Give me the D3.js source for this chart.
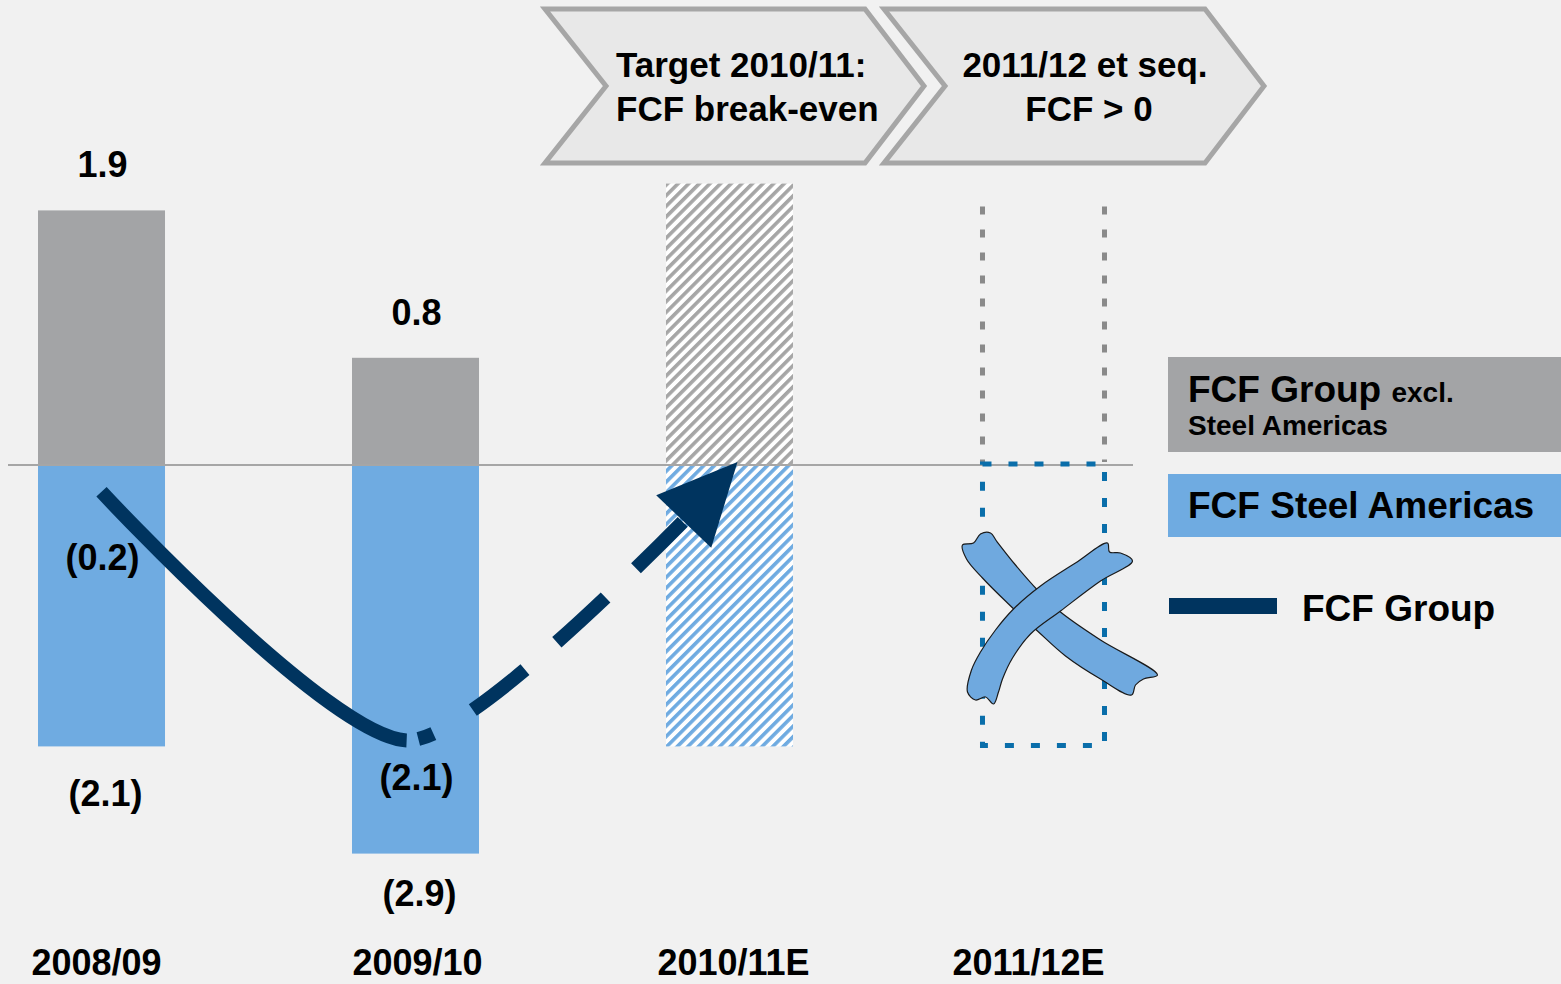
<!DOCTYPE html>
<html>
<meta charset="utf-8">
<style>
body { margin: 0; background: #f1f1f1; }
svg { display: block; }
text { font-family: "Liberation Sans", Arial, sans-serif; font-weight: bold; fill: #000; }
</style>
<body>
<script src="https://d3js.org/d3.v7.min.js"></script>
<script>
// data
var categories = ["2008/09", "2009/10", "2010/11E", "2011/12E"];
var fcfExclSA = [1.9, 0.8];            // grey bars (FCF Group excl. Steel Americas)
var fcfSteelAmericas = [-2.1, -2.9];   // blue bars (FCF Steel Americas)
var fcfGroup = [-0.2, -2.1, 0];        // FCF Group line (last = target break-even)
var targetRange = [-2.1, 2.1];         // hatched target bar 2010/11E
var outlookRange = [-2.1, 1.9];        // dotted outlook bar 2011/12E
var headers = [["Target 2010/11:", "FCF break-even"], ["2011/12 et seq.", "FCF > 0"]];

var W = 1561, H = 984;
var grey = "#a3a4a6", blue = "#6fabe1", navy = "#00345f";

var svg = d3.select("body").append("svg")
    .attr("width", W)
    .attr("height", H);

var x = d3.scaleBand().domain(categories).range([38, 1107]).paddingInner(0.5955).paddingOuter(0);
var y = d3.scaleLinear().domain([-3, 2.5]).range([465 + 3 * 134, 465 - 2.5 * 134]);
var bw = x.bandwidth();
function cx(i) { return x(categories[i]) + bw / 2; }
function fmt(v) { return v < 0 ? "(" + d3.format(".1f")(-v) + ")" : d3.format(".1f")(v); }

// hatch patterns
var defs = svg.append("defs");
[["hatchGrey", "#a6a6a6"], ["hatchBlue", "#6fabe1"]].forEach(function(p) {
  var pat = defs.append("pattern")
      .attr("id", p[0])
      .attr("patternUnits", "userSpaceOnUse")
      .attr("width", 7.5).attr("height", 7.5)
      .attr("patternTransform", "rotate(45)");
  pat.append("rect").attr("width", 7.5).attr("height", 7.5).attr("fill", "#fff");
  pat.append("rect").attr("width", 3.6).attr("height", 7.5).attr("fill", p[1]);
});

// header chevrons
function chevron(x0, x1) {
  var t = 59, y0 = 9, y1 = 163, ym = (y0 + y1) / 2;
  return [[x0, y0], [x1, y0], [x1 + t, ym], [x1, y1], [x0, y1], [x0 + 61, ym]];
}
var chev = [chevron(545, 865), chevron(884, 1205)];
svg.selectAll(".chev")
  .data(chev)
  .enter().append("path")
    .attr("class", "chev")
    .attr("d", function(d) { return d3.line()(d) + "Z"; })
    .attr("fill", "#e8e8e8")
    .attr("stroke", "#a6a6a6")
    .attr("stroke-width", 5)
    .attr("stroke-linejoin", "miter");

var h1 = svg.append("text").attr("x", 616).attr("y", 77).style("font-size", "35px");
h1.append("tspan").attr("x", 616).text(headers[0][0]);
h1.append("tspan").attr("x", 616).attr("dy", 44).text(headers[0][1]);
var h2 = svg.append("text").attr("x", 1085).attr("y", 77).style("font-size", "35px").style("text-anchor", "middle");
h2.append("tspan").attr("x", 1085).text(headers[1][0]);
h2.append("tspan").attr("x", 1089).attr("dy", 44).text(headers[1][1]);

// actual bars
svg.selectAll(".pos")
  .data(fcfExclSA)
  .enter().append("rect")
    .attr("class", "pos")
    .attr("x", function(d, i) { return x(categories[i]); })
    .attr("y", function(d) { return y(d); })
    .attr("width", bw)
    .attr("height", function(d) { return y(0) - y(d); })
    .attr("fill", grey);

svg.selectAll(".neg")
  .data(fcfSteelAmericas)
  .enter().append("rect")
    .attr("class", "neg")
    .attr("x", function(d, i) { return x(categories[i]); })
    .attr("y", y(0))
    .attr("width", bw)
    .attr("height", function(d) { return y(d) - y(0); })
    .attr("fill", blue);

// hatched target bar
svg.append("rect")
    .attr("x", x(categories[2])).attr("y", y(targetRange[1]))
    .attr("width", bw).attr("height", y(0) - y(targetRange[1]))
    .attr("fill", "url(#hatchGrey)");
svg.append("rect")
    .attr("x", x(categories[2])).attr("y", y(0))
    .attr("width", bw).attr("height", y(targetRange[0]) - y(0))
    .attr("fill", "url(#hatchBlue)");

// dotted outlook bar
var x4 = x(categories[3]);
[x4 + 2.5, x4 + bw - 2.5].forEach(function(xx) {
  svg.append("line")
      .attr("x1", xx).attr("x2", xx)
      .attr("y1", y(outlookRange[1]) - 4).attr("y2", y(0) - 3)
      .attr("stroke", "#8a8a8a")
      .attr("stroke-width", 5)
      .attr("stroke-dasharray", "8 15");
});

// zero line
svg.append("line")
    .attr("x1", 8).attr("x2", 1133)
    .attr("y1", y(0)).attr("y2", y(0))
    .attr("stroke", "#a6a6a6")
    .attr("stroke-width", 2);

svg.append("rect")
    .attr("x", x4 + 2.5).attr("y", y(0) - 1)
    .attr("width", bw - 5).attr("height", y(outlookRange[0]) - y(0))
    .attr("fill", "none")
    .attr("stroke", "#0a6eaa")
    .attr("stroke-width", 5)
    .attr("stroke-dasharray", "9 17");

// crossed-out tape on 2011/12E
var c4 = cx(3), z = y(0);
var band1 = [[962,545],[973,543],[980,534],[990,533],[996,541],[1015,565],[1037,590],[1060,612],[1100,640],[1157,675],
             [1143,679],[1135,685],[1131,695],[1100,679],[1065,656],[1037,631],[1007,603],[982,578],[966,559]];
var band2 = [[967,692],[971,670],[980,652],[995,630],[1013,609],[1040,586],[1075,563],[1107,543],[1109,552],[1120,553],
             [1132,561],[1100,581],[1060,611],[1030,634],[1012,658],[1002,679],[998,692],[993,704],[985,697],[975,700]];
[band1, band2].forEach(function(b) {
  svg.append("path")
      .attr("d", d3.line().curve(d3.curveCatmullRomClosed.alpha(0.5))(b.map(function(p) { return [p[0] - 1043 + c4, p[1] - 465 + z]; })))
      .attr("fill", "#6fa9df")
      .attr("stroke", "#1a1a1a")
      .attr("stroke-width", 1.2);
});

// FCF Group line
var pts = fcfGroup.map(function(v, i) { return [i == 2 ? cx(i) + 8 : cx(i) - (i == 1 ? 6 : 0), y(v) - (i == 1 ? 6 : 0)]; });
var linePath = svg.append("path")
    .attr("d", d3.line().curve(d3.curveCardinal.tension(0.3))(pts))
    .attr("fill", "none")
    .attr("stroke", navy)
    .attr("stroke-width", 14);

var node = linePath.node(), total = node.getTotalLength();
// solid part ends just before 2009/10 point
var lo = 0, hi = total;
for (var k = 0; k < 30; k++) {
  var mid = (lo + hi) / 2;
  if (node.getPointAtLength(mid).x < pts[1][0] - 3) lo = mid; else hi = mid;
}
var dash = [lo, 12, 16, 46], used = lo + 74, stopAt = total - 62, on = true;
while (used < stopAt) {
  var seg = on ? Math.min(66, stopAt - used) : 42;
  dash.push(seg); used += seg; on = !on;
}
if (dash.length % 2 == 1) dash.push(2000); else dash.push(0, 2000);
linePath.attr("stroke-dasharray", dash.join(" "));

// arrow head
var tip = node.getPointAtLength(total), back = node.getPointAtLength(total - 40);
var ang = Math.atan2(tip.y - back.y, tip.x - back.x);
var hl = 78, hw = 38;
var bx = tip.x - hl * Math.cos(ang), by = tip.y - hl * Math.sin(ang);
svg.append("path")
    .attr("d", d3.line()([[tip.x, tip.y - 3],
        [bx + hw * Math.sin(ang), by - hw * Math.cos(ang)],
        [bx - hw * Math.sin(ang), by + hw * Math.cos(ang)]]) + "Z")
    .attr("fill", navy);

// value labels
svg.selectAll(".lblPos")
  .data(fcfExclSA)
  .enter().append("text")
    .attr("x", function(d, i) { return cx(i) + 1; })
    .attr("y", function(d) { return y(d) - 33; })
    .style("text-anchor", "middle").style("font-size", "36px")
    .text(fmt);

svg.selectAll(".lblNeg")
  .data(fcfSteelAmericas)
  .enter().append("text")
    .attr("x", function(d, i) { return cx(i) + 4; })
    .attr("y", function(d, i) { return y(d) + (i == 0 ? 60 : 52); })
    .style("text-anchor", "middle").style("font-size", "36px")
    .text(fmt);

var groupDy = [78, 44];
svg.selectAll(".lblGrp")
  .data(fcfGroup.slice(0, 2))
  .enter().append("text")
    .attr("x", function(d, i) { return cx(i) + 1; })
    .attr("y", function(d, i) { return y(d) + groupDy[i]; })
    .style("text-anchor", "middle").style("font-size", "36px")
    .text(fmt);

// category labels
var catDx = [-5, 2, 4, -15];
svg.selectAll(".cat")
  .data(categories)
  .enter().append("text")
    .attr("x", function(d, i) { return x(d) + bw / 2 + catDx[i]; })
    .attr("y", 975)
    .style("text-anchor", "middle").style("font-size", "36px")
    .text(function(d) { return d; });

// legend
svg.append("rect").attr("x", 1168).attr("y", 357).attr("width", 400).attr("height", 95).attr("fill", grey);
var lg = svg.append("text").attr("x", 1188).attr("y", 402).style("font-size", "37px");
lg.append("tspan").text("FCF Group ");
lg.append("tspan").style("font-size", "28px").text("excl.");
svg.append("text").attr("x", 1188).attr("y", 435).style("font-size", "28px").text("Steel Americas");

svg.append("rect").attr("x", 1168).attr("y", 474).attr("width", 400).attr("height", 63).attr("fill", blue);
svg.append("text").attr("x", 1188).attr("y", 518).style("font-size", "37px").text("FCF Steel Americas");

svg.append("line")
    .attr("x1", 1169).attr("x2", 1277)
    .attr("y1", 606).attr("y2", 606)
    .attr("stroke", navy).attr("stroke-width", 16);
svg.append("text").attr("x", 1302).attr("y", 621).style("font-size", "37px").text("FCF Group");
</script>
</body>
</html>
